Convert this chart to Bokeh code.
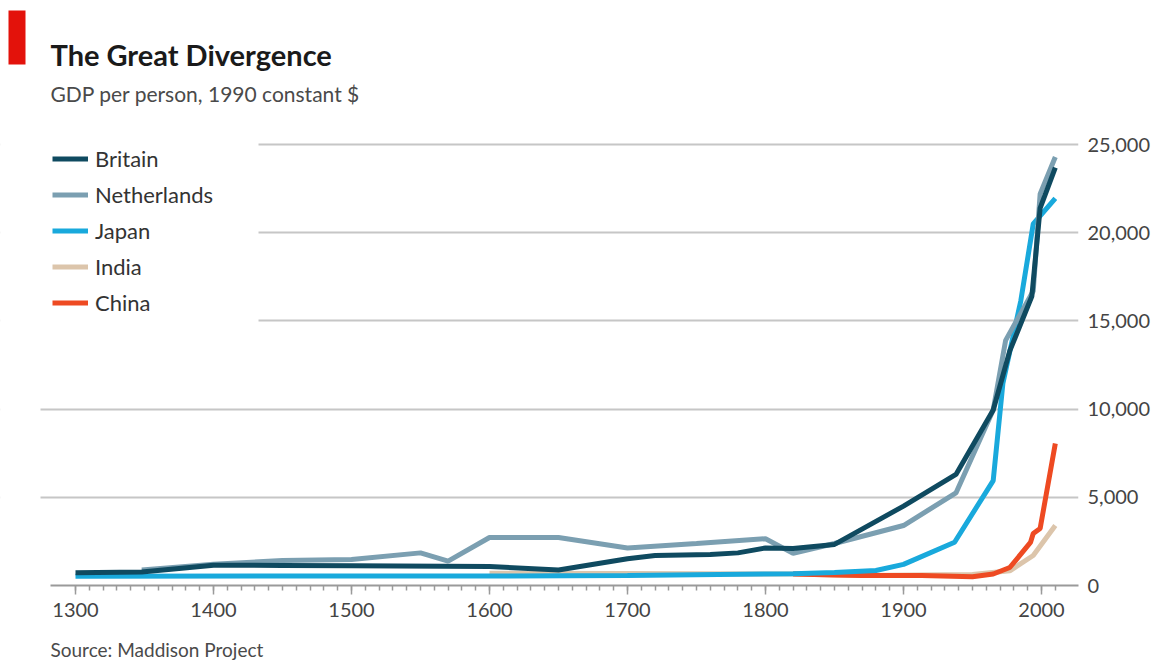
from bokeh.plotting import figure
from bokeh.models import (Range1d, FixedTicker, NumeralTickFormatter, Legend,
                          LegendItem, Label, BoxAnnotation, Title)
from bokeh.embed import file_html
from bokeh.resources import INLINE

# ---------------- data ----------------
countries = ["Britain", "Netherlands", "Japan", "India", "China"]

britain_years = [1300, 1348, 1400, 1450, 1500, 1600, 1650, 1700, 1720, 1760,
                 1780, 1800, 1820, 1850, 1900, 1938, 1965, 1977, 1993, 1999, 2010]
britain_gdp = [720, 760, 1150, 1140, 1120, 1080, 880, 1520, 1700, 1760,
               1850, 2130, 2100, 2330, 4500, 6300, 9950, 13300, 16400, 21400, 23700]

netherlands_years = [1348, 1400, 1450, 1500, 1550, 1570, 1600, 1650, 1700, 1750,
                     1800, 1820, 1850, 1900, 1938, 1965, 1974, 1994, 1999, 2010]
netherlands_gdp = [880, 1200, 1420, 1480, 1850, 1380, 2720, 2720, 2130, 2380,
                   2650, 1820, 2380, 3400, 5250, 9950, 13900, 16700, 22200, 24300]

japan_years = [1300, 1600, 1700, 1820, 1850, 1880, 1900, 1937, 1965, 1972, 1985, 1994, 2010]
japan_gdp = [530, 540, 570, 670, 740, 850, 1200, 2450, 5950, 11450, 16150, 20500, 21950]

india_years = [1600, 1700, 1820, 1870, 1950, 1977, 1994, 2010]
india_gdp = [700, 680, 650, 560, 620, 830, 1700, 3400]

china_years = [1820, 1850, 1870, 1913, 1950, 1965, 1977, 1992, 1994, 1999, 2010]
china_gdp = [650, 600, 560, 560, 500, 650, 1020, 2440, 2950, 3230, 8050]

x_ticks = list(range(1300, 2001, 100))
x_minor_ticks = list(range(1300, 2011, 10))
y_ticks = [0, 5000, 10000, 15000, 20000, 25000]
y_grid_ticks = [5000, 10000, 15000, 20000, 25000]  # the 0 line is the axis itself

colors = {
    "Britain": "#0f4a60",
    "Netherlands": "#7b9fb1",
    "Japan": "#19a9dc",
    "India": "#dcc5ab",
    "China": "#ee4a22",
}

FONT = "Lato"
SOURCE = "Source: Maddison Project"

# ---------------- figure ----------------
p = figure(width=1162, height=661, title=None,
           x_range=Range1d(1245.65, 2026.8), y_range=Range1d(0, 33170),
           y_axis_location="right",
           output_backend="svg", toolbar_location=None,
           min_border_left=0, min_border_right=84,
           min_border_top=0, min_border_bottom=76)
p.outline_line_color = None
p.background_fill_color = "white"
p.border_fill_color = "white"

series = {
    "Britain": (britain_years, britain_gdp),
    "Netherlands": (netherlands_years, netherlands_gdp),
    "Japan": (japan_years, japan_gdp),
    "India": (india_years, india_gdp),
    "China": (china_years, china_gdp),
}

renderers = {}
for name in ["India", "China", "Japan", "Netherlands", "Britain"]:
    xs, ys = series[name]
    renderers[name] = p.line(xs, ys, line_width=5, line_color=colors[name])

# grid
p.xgrid.visible = False
p.ygrid.ticker = FixedTicker(ticks=y_grid_ticks)
p.ygrid.grid_line_color = "#c6c6c6"
p.ygrid.grid_line_width = 2

# white masks (under the data) that trim the gridlines on the left
mask_kw = dict(left_units="screen", right_units="screen",
               top_units="screen", bottom_units="screen",
               fill_color="white", fill_alpha=1.0, line_color=None,
               level="underlay")
p.add_layout(BoxAnnotation(left=-2, right=258, bottom=253, top=449, **mask_kw))
p.add_layout(BoxAnnotation(left=-2, right=40, bottom=-2, top=253, **mask_kw))

# x axis
xa = p.xaxis[0]
xa.ticker = FixedTicker(ticks=x_ticks, minor_ticks=x_minor_ticks)
xa.bounds = (1281.9, 2028.3)
xa.axis_line_color = "#9a9a9a"
xa.axis_line_width = 2
xa.major_tick_line_color = "#9a9a9a"
xa.major_tick_line_width = 1.5
xa.major_tick_in = 0
xa.major_tick_out = 9
xa.minor_tick_line_color = "#9a9a9a"
xa.minor_tick_line_width = 1.5
xa.minor_tick_in = 0
xa.minor_tick_out = 5
xa.major_label_text_font = FONT
xa.major_label_text_font_size = "20px"
xa.major_label_text_color = "#444444"
xa.major_label_standoff = 8

# y axis (right)
ya = p.yaxis[0]
ya.ticker = FixedTicker(ticks=y_ticks)
ya.formatter = NumeralTickFormatter(format="0,0")
ya.axis_line_color = None
ya.major_tick_line_color = None
ya.minor_tick_line_color = None
ya.major_tick_in = 0
ya.major_tick_out = 0
ya.major_label_standoff = 9
ya.major_label_text_font = FONT
ya.major_label_text_font_size = "20px"
ya.major_label_text_color = "#444444"

# legend
legend = Legend(
    items=[LegendItem(label=n, renderers=[renderers[n]]) for n in countries],
    location=(52, 269),
    orientation="vertical",
    padding=12, spacing=9, margin=0,
    glyph_width=36, glyph_height=27, label_height=27,
    label_standoff=7,
    label_text_font=FONT, label_text_font_size="22px",
    label_text_color="#333333",
    background_fill_alpha=0.0,
    border_line_color=None,
)
p.add_layout(legend, "center")

# title block (inside the frame, screen units from the frame's bottom-left)
p.add_layout(BoxAnnotation(left=8, right=25, top=575, bottom=521,
                           left_units="screen", right_units="screen",
                           top_units="screen", bottom_units="screen",
                           fill_color="#e3120b", fill_alpha=1.0, line_color=None,
                           level="overlay"))
p.add_layout(Label(x=50, y=531, x_units="screen", y_units="screen",
                   text="The Great Divergence", text_font=FONT,
                   text_font_style="bold", text_font_size="29px",
                   text_color="#1a1a1a", text_baseline="alphabetic"))
p.add_layout(Label(x=50, y=492, x_units="screen", y_units="screen",
                   text="GDP per person, 1990 constant $", text_font=FONT,
                   text_font_size="21px", text_color="#4a4a4a",
                   text_baseline="alphabetic"))

# source line below the axis
source_title = Title(text=SOURCE, align="left", offset=50,
                     vertical_align="bottom",
                     text_font=FONT, text_font_size="19px",
                     text_font_style="normal", text_color="#4a4a4a",
                     standoff=14)
try:
    # push the text to the bottom of its panel with top-only padding
    source_title.padding = dict(top=16, bottom=0, left=0, right=0)
    source_title.standoff = 0
except Exception:
    source_title.standoff = 14
p.add_layout(source_title, "below")

open("out.html", "w").write(file_html(p, INLINE))
